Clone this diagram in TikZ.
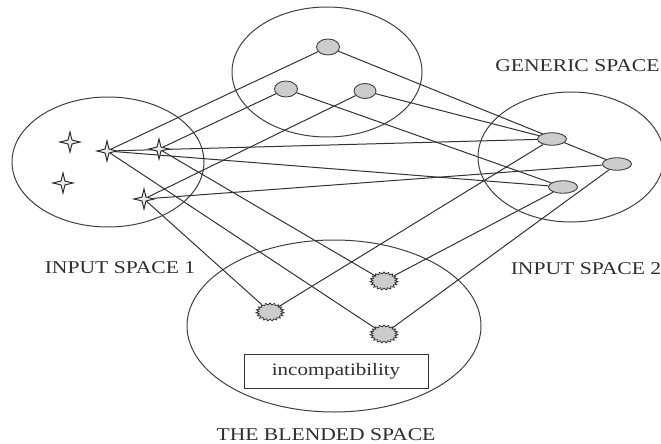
\documentclass[tikz,border=0pt]{standalone}
\usepackage{fontspec}
\newfontfamily\lblfont{Liberation Serif}[FakeStretch=1.2]
\usetikzlibrary{shapes.geometric,backgrounds}
\begin{document}
\begin{tikzpicture}[
  x=1pt, y=-1pt,
  line width=1pt, color=black!82,
  space/.style={draw=black!75, line width=1pt},
  link/.style={draw=black!80, line width=1pt},
  sparkle/.style={star, star points=4, star point ratio=3.6, minimum size=20pt,
    inner sep=0pt, draw=black!82, fill=black!8, line width=1pt},
  gdot/.style={ellipse, inner sep=0pt, minimum width=23pt, minimum height=16pt,
    draw=black!75, fill=black!20, line width=0.9pt},
  rdot/.style={ellipse, inner sep=0pt, minimum width=29pt, minimum height=12.5pt,
    draw=black!75, fill=black!20, line width=0.9pt},
  blob/.style={star, star points=19, star point ratio=1.25, minimum size=18pt,
    inner sep=0pt, xscale=1.55, transform shape, draw=black!80, fill=black!20,
    line width=0.8pt},
  lbl/.style={inner sep=0pt, font=\lblfont\fontsize{18pt}{18pt}\selectfont}
]
  \useasboundingbox (0,0) rectangle (661,444);
  % ---- input space 1 ----
  \node[sparkle] (a0) at ( 70,142) {};
  \node[sparkle] (a00) at ( 63,183) {};
  \node[sparkle] (A1) at (107,151) {};
  \node[sparkle] (A2) at (159,149) {};
  \node[sparkle] (A3) at (144,199) {};
  % ---- generic space ----
  \node[gdot] (G1) at (328, 47) {};
  \node[gdot] (G2) at (286, 89) {};
  \node[gdot, minimum width=22pt, minimum height=15pt] (G3) at (365, 91) {};
  % ---- input space 2 ----
  \node[rdot] (B1) at (552,139) {};
  \node[rdot] (B2) at (617,164) {};
  \node[rdot] (B3) at (563,187) {};
  % ---- blended space ----
  \coordinate (c1) at (384,281);
  \coordinate (c2) at (270,312);
  \coordinate (c3) at (384,334);
  \node[blob] (C1) at (c1) {};
  \node[blob] (C2) at (c2) {};
  \node[blob] (C3) at (c3) {};
  \node[draw=black!80, line width=1pt, minimum width=184pt, minimum height=34pt,
    inner sep=0pt, font=\lblfont\fontsize{17.5pt}{17.5pt}\selectfont]
    (incomp) at (336,371) {incompatibility};
  % ---- labels ----
  \node[lbl, anchor=base east] (lblGeneric) at (660, 71) {GENERIC SPACE};
  \node[lbl, anchor=base] (lblInOne) at (120,273) {INPUT SPACE 1};
  \node[lbl, anchor=base] (lblInTwo) at (586,274) {INPUT SPACE 2};
  \node[lbl, anchor=base] (lblBlend) at (326,440) {THE BLENDED SPACE};
  \begin{scope}[on background layer]
    % ---- the four spaces ----
    \draw[space] (108,162) ellipse [x radius=96, y radius=65];
    \draw[space] (327, 72) ellipse [x radius=95, y radius=65];
    \draw[space] (571,157) ellipse [x radius=93, y radius=65];
    \draw[space] (334,326) ellipse [x radius=147, y radius=86];
    % ---- generic to inputs ----
    \draw[link] (A1) -- (G1);
    \draw[link] (A2) -- (G2);
    \draw[link] (A3) -- (G3);
    \draw[link] (G1) -- (B2);
    \draw[link] (G2) -- (B3);
    \draw[link] (G3) -- (B1);
    % ---- cross-space mapping ----
    \draw[link] (A1) -- (B1);
    \draw[link] (A1) -- (B3);
    \draw[link] (A3) -- (B2);
    % ---- projection into the blend ----
    \draw[link] (A1) -- (C3);
    \draw[link] (A2) -- (C1);
    \draw[link] (A3) -- (C2);
    \draw[link] (B1) -- (C2);
    \draw[link] (B2) -- (C3);
    \draw[link] (B3) -- (C1);
  \end{scope}
\end{tikzpicture}
\end{document}
